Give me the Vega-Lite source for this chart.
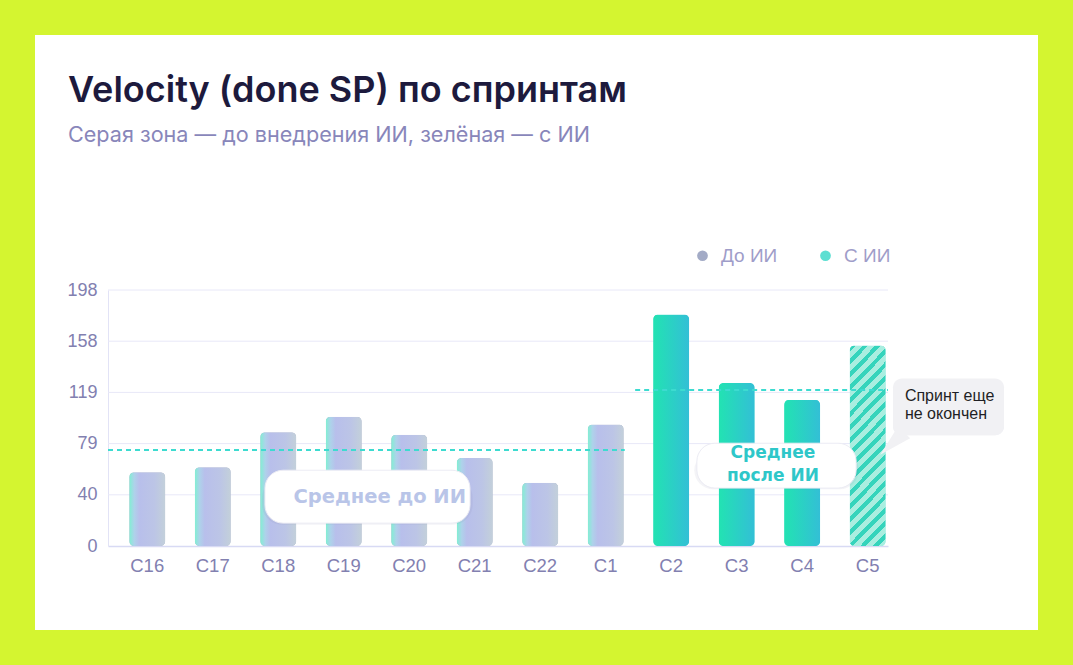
{
  "$schema": "https://vega.github.io/schema/vega-lite/v6.json",
  "width": 1003,
  "height": 595,
  "autosize": {"type": "none"},
  "padding": 35,
  "background": "#d4f530",
  "config": {"view": {"fill": "#ffffff", "stroke": null}, "font": "Liberation Sans"},
  "title": {
    "text": "Velocity (done SP) по спринтам",
    "subtitle": "Серая зона — до внедрения ИИ, зелёная — с ИИ",
    "anchor": "start",
    "frame": "group",
    "orient": "top",
    "dx": 33,
    "offset": -113,
    "font": "Inter",
    "fontSize": 36,
    "fontWeight": 600,
    "color": "#1d1a3d",
    "subtitleFont": "Inter",
    "subtitleFontSize": 21.6,
    "subtitleColor": "#8886ba",
    "subtitlePadding": 15
  },
  "datasets": {
    "sprints": [
      {"s": "С16", "v": 57, "g": "До ИИ", "done": true},
      {"s": "С17", "v": 61, "g": "До ИИ", "done": true},
      {"s": "С18", "v": 88, "g": "До ИИ", "done": true},
      {"s": "С19", "v": 100, "g": "До ИИ", "done": true},
      {"s": "С20", "v": 86, "g": "До ИИ", "done": true},
      {"s": "С21", "v": 68, "g": "До ИИ", "done": true},
      {"s": "С22", "v": 49, "g": "До ИИ", "done": true},
      {"s": "С1", "v": 94, "g": "До ИИ", "done": true},
      {"s": "С2", "v": 179, "g": "С ИИ", "done": true},
      {"s": "С3", "v": 126, "g": "С ИИ", "done": true},
      {"s": "С4", "v": 113, "g": "С ИИ", "done": true},
      {"s": "С5", "v": 155, "g": "С ИИ", "done": false}
    ],
    "grid": [{"t": 39.6}, {"t": 79.2}, {"t": 118.8}, {"t": 158.4}, {"t": 198}]
  },
  "layer": [
    {
      "data": {"name": "grid"},
      "mark": {"type": "rule", "color": "#e8e8f8", "strokeWidth": 1},
      "encoding": {
        "x": {"datum": 0, "type": "quantitative", "scale": {"domain": [0, 12], "range": [73, 853]}, "axis": null},
        "x2": {"datum": 12},
        "y": {"field": "t", "type": "quantitative", "title": null}
      }
    },
    {
      "data": {"name": "sprints"},
      "encoding": {
        "x": {
          "field": "s", "type": "nominal", "sort": null,
          "scale": {"type": "band", "range": [73, 853], "paddingInner": 0.45, "paddingOuter": 0.18, "align": 0.9},
          "axis": {"title": null, "labelAngle": 0, "ticks": false, "grid": false, "domainColor": "#d8daf4", "domainWidth": 1.5, "labelFont": "Liberation Sans", "labelFontSize": 18.5, "labelColor": "#8280b0", "labelPadding": 10, "offset": -84}
        },
        "y": {
          "field": "v", "type": "quantitative",
          "scale": {"domain": [0, 198], "range": [511, 255], "nice": false, "zero": true},
          "axis": {"title": null, "values": [0, 39.6, 79.2, 118.8, 158.4, 198], "format": ".0f", "ticks": false, "grid": false, "domain": true, "domainColor": "#e2e3f6", "labelFont": "Liberation Sans", "labelFontSize": 18, "labelColor": "#8280b0", "labelPadding": 11, "offset": -73}
        }
      },
      "layer": [
        {
          "mark": {"type": "bar", "cornerRadius": 5, "y2Offset": -5},
          "encoding": {
            "color": {
              "field": "g", "type": "nominal",
              "scale": {"domain": ["До ИИ", "С ИИ"], "range": ["#a3abc6", "#5ddfd2"]},
              "legend": {"orient": "none", "legendX": 658, "legendY": 211, "direction": "horizontal", "title": null, "symbolType": "circle", "symbolSize": 115, "symbolStrokeWidth": 0, "labelFont": "Liberation Sans", "labelFontSize": 19, "labelColor": "#9f9dc9", "labelOffset": 9, "columnPadding": 38, "padding": 0}
            }
          }
        },
        {
          "transform": [{"filter": "datum.g == 'До ИИ'"}],
          "mark": {"type": "bar", "cornerRadius": 5, "y2Offset": -5,
            "fill": {"gradient": "linear", "x1": 0, "y1": 0, "x2": 1, "y2": 0,
              "stops": [
                {"offset": 0, "color": "#80f0d2"},
                {"offset": 0.14, "color": "#aed2ea"},
                {"offset": 0.28, "color": "#b8bfeb"},
                {"offset": 0.7, "color": "#bcc5e6"},
                {"offset": 1, "color": "#c3d0da"}
              ]}}
        },
        {
          "transform": [{"filter": "datum.g == 'С ИИ' && datum.done"}],
          "mark": {"type": "bar", "cornerRadius": 5, "y2Offset": -5,
            "fill": {"gradient": "linear", "x1": 0, "y1": 0, "x2": 1, "y2": 0,
              "stops": [
                {"offset": 0, "color": "#22e3b2"},
                {"offset": 1, "color": "#33bfd6"}
              ]}}
        },
        {
          "transform": [{"filter": "!datum.done"}],
          "mark": {"type": "bar", "cornerRadius": 5, "y2Offset": -5,
            "fill": {"gradient": "linear", "x1": 0, "y1": 0, "x2": 0.212, "y2": 1.146,
              "stops": [
                {"offset": 0, "color": "#35d4bc"}, {"offset": 0.025, "color": "#35d4bc"}, {"offset": 0.025, "color": "#a9eee0"}, {"offset": 0.0556, "color": "#a9eee0"},
                {"offset": 0.0556, "color": "#35d4bc"}, {"offset": 0.0806, "color": "#35d4bc"}, {"offset": 0.0806, "color": "#a9eee0"}, {"offset": 0.1111, "color": "#a9eee0"},
                {"offset": 0.1111, "color": "#35d4bc"}, {"offset": 0.1361, "color": "#35d4bc"}, {"offset": 0.1361, "color": "#a9eee0"}, {"offset": 0.1667, "color": "#a9eee0"},
                {"offset": 0.1667, "color": "#35d4bc"}, {"offset": 0.1917, "color": "#35d4bc"}, {"offset": 0.1917, "color": "#a9eee0"}, {"offset": 0.2222, "color": "#a9eee0"},
                {"offset": 0.2222, "color": "#35d4bc"}, {"offset": 0.2472, "color": "#35d4bc"}, {"offset": 0.2472, "color": "#a9eee0"}, {"offset": 0.2778, "color": "#a9eee0"},
                {"offset": 0.2778, "color": "#35d4bc"}, {"offset": 0.3028, "color": "#35d4bc"}, {"offset": 0.3028, "color": "#a9eee0"}, {"offset": 0.3333, "color": "#a9eee0"},
                {"offset": 0.3333, "color": "#35d4bc"}, {"offset": 0.3583, "color": "#35d4bc"}, {"offset": 0.3583, "color": "#a9eee0"}, {"offset": 0.3889, "color": "#a9eee0"},
                {"offset": 0.3889, "color": "#35d4bc"}, {"offset": 0.4139, "color": "#35d4bc"}, {"offset": 0.4139, "color": "#a9eee0"}, {"offset": 0.4444, "color": "#a9eee0"},
                {"offset": 0.4444, "color": "#35d4bc"}, {"offset": 0.4694, "color": "#35d4bc"}, {"offset": 0.4694, "color": "#a9eee0"}, {"offset": 0.5, "color": "#a9eee0"},
                {"offset": 0.5, "color": "#35d4bc"}, {"offset": 0.525, "color": "#35d4bc"}, {"offset": 0.525, "color": "#a9eee0"}, {"offset": 0.5556, "color": "#a9eee0"},
                {"offset": 0.5556, "color": "#35d4bc"}, {"offset": 0.5806, "color": "#35d4bc"}, {"offset": 0.5806, "color": "#a9eee0"}, {"offset": 0.6111, "color": "#a9eee0"},
                {"offset": 0.6111, "color": "#35d4bc"}, {"offset": 0.6361, "color": "#35d4bc"}, {"offset": 0.6361, "color": "#a9eee0"}, {"offset": 0.6667, "color": "#a9eee0"},
                {"offset": 0.6667, "color": "#35d4bc"}, {"offset": 0.6917, "color": "#35d4bc"}, {"offset": 0.6917, "color": "#a9eee0"}, {"offset": 0.7222, "color": "#a9eee0"},
                {"offset": 0.7222, "color": "#35d4bc"}, {"offset": 0.7472, "color": "#35d4bc"}, {"offset": 0.7472, "color": "#a9eee0"}, {"offset": 0.7778, "color": "#a9eee0"},
                {"offset": 0.7778, "color": "#35d4bc"}, {"offset": 0.8028, "color": "#35d4bc"}, {"offset": 0.8028, "color": "#a9eee0"}, {"offset": 0.8333, "color": "#a9eee0"},
                {"offset": 0.8333, "color": "#35d4bc"}, {"offset": 0.8583, "color": "#35d4bc"}, {"offset": 0.8583, "color": "#a9eee0"}, {"offset": 0.8889, "color": "#a9eee0"},
                {"offset": 0.8889, "color": "#35d4bc"}, {"offset": 0.9139, "color": "#35d4bc"}, {"offset": 0.9139, "color": "#a9eee0"}, {"offset": 0.9444, "color": "#a9eee0"},
                {"offset": 0.9444, "color": "#35d4bc"}, {"offset": 0.9694, "color": "#35d4bc"}, {"offset": 0.9694, "color": "#a9eee0"}, {"offset": 1, "color": "#a9eee0"}
              ]}}
        }
      ]
    },
    {
      "layer": [
        {
          "data": {"values": [{"avg": 74.3}]},
          "mark": {"type": "rule", "color": "#3ddbd0", "strokeWidth": 2, "strokeDash": [5, 4]},
          "encoding": {
            "x": {"datum": 0, "type": "quantitative", "scale": {"domain": [0, 12], "range": [73, 853]}, "axis": null},
            "x2": {"datum": 7.95},
            "y": {"field": "avg", "type": "quantitative", "title": null}
          }
        },
        {
          "data": {"values": [{"avg": 120.7}]},
          "mark": {"type": "rule", "color": "#3ddbd0", "strokeWidth": 2, "strokeDash": [5, 4]},
          "encoding": {
            "x": {"datum": 8.11, "type": "quantitative", "axis": null},
            "x2": {"datum": 12},
            "y": {"field": "avg", "type": "quantitative", "title": null}
          }
        },
        {
          "data": {"values": [{}]},
          "mark": {"type": "rect", "cornerRadius": 20, "fill": "#6f7399", "opacity": 0.08, "yOffset": 9},
          "encoding": {
            "x": {"datum": 2.37, "type": "quantitative", "axis": null},
            "x2": {"datum": 5.61},
            "y": {"datum": 59.5, "type": "quantitative"},
            "y2": {"datum": 16.5}
          }
        },
        {
          "data": {"values": [{}]},
          "mark": {"type": "rect", "cornerRadius": 18, "fill": "#6f7399", "opacity": 0.12, "yOffset": 4},
          "encoding": {
            "x": {"datum": 2.415, "type": "quantitative", "axis": null},
            "x2": {"datum": 5.569},
            "y": {"datum": 58.6, "type": "quantitative"},
            "y2": {"datum": 17.7}
          }
        },
        {
          "data": {"values": [{}]},
          "mark": {"type": "rect", "cornerRadius": 18, "fill": "#ffffff", "stroke": "#ececf4", "strokeWidth": 1},
          "encoding": {
            "x": {"datum": 2.415, "type": "quantitative", "axis": null},
            "x2": {"datum": 5.569},
            "y": {"datum": 58.6, "type": "quantitative"},
            "y2": {"datum": 17.7}
          }
        },
        {
          "data": {"values": [{"label": "Среднее до ИИ"}]},
          "mark": {"type": "text", "font": "DejaVu Sans", "fontWeight": "bold", "fontSize": 19.5, "color": "#b9c5e8", "align": "center", "baseline": "middle"},
          "encoding": {
            "x": {"datum": 4.18, "type": "quantitative", "axis": null},
            "y": {"datum": 37.8, "type": "quantitative"},
            "text": {"field": "label"}
          }
        },
        {
          "data": {"values": [{}]},
          "mark": {"type": "rect", "cornerRadius": 20, "fill": "#6f7399", "opacity": 0.08, "yOffset": 9},
          "encoding": {
            "x": {"datum": 9.02, "type": "quantitative", "axis": null},
            "x2": {"datum": 11.55},
            "y": {"datum": 80.3, "type": "quantitative"},
            "y2": {"datum": 43.9}
          }
        },
        {
          "data": {"values": [{}]},
          "mark": {"type": "rect", "cornerRadius": 18, "fill": "#6f7399", "opacity": 0.12, "yOffset": 4},
          "encoding": {
            "x": {"datum": 9.06, "type": "quantitative", "axis": null},
            "x2": {"datum": 11.51},
            "y": {"datum": 79.5, "type": "quantitative"},
            "y2": {"datum": 44.8}
          }
        },
        {
          "data": {"values": [{}]},
          "mark": {"type": "rect", "cornerRadius": 18, "fill": "#ffffff", "stroke": "#ececf4", "strokeWidth": 1},
          "encoding": {
            "x": {"datum": 9.06, "type": "quantitative", "axis": null},
            "x2": {"datum": 11.51},
            "y": {"datum": 79.5, "type": "quantitative"},
            "y2": {"datum": 44.8}
          }
        },
        {
          "data": {"values": [{"label": "Среднее\nпосле ИИ"}]},
          "mark": {"type": "text", "font": "DejaVu Sans", "fontWeight": "bold", "fontSize": 17, "color": "#2ec7c9", "align": "center", "baseline": "middle", "lineBreak": "\n", "lineHeight": 23},
          "encoding": {
            "x": {"datum": 10.23, "type": "quantitative", "axis": null},
            "y": {"datum": 71.9, "type": "quantitative"},
            "text": {"field": "label"}
          }
        },
        {
          "data": {"values": [{}]},
          "mark": {"type": "rect", "cornerRadius": 9, "fill": "#6f7399", "opacity": 0.12, "yOffset": 4},
          "encoding": {
            "x": {"datum": 12.077, "type": "quantitative", "axis": null},
            "x2": {"datum": 13.785},
            "y": {"datum": 129.6, "type": "quantitative"},
            "y2": {"datum": 85.6}
          }
        },
        {
          "data": {"values": [{}]},
          "mark": {"type": "point", "shape": "M0.2,-1L-1,0.9L1,-0.2Z", "size": 900, "filled": true, "color": "#f1f1f4", "opacity": 1, "strokeWidth": 0},
          "encoding": {
            "x": {"datum": 12.11, "type": "quantitative", "axis": null},
            "y": {"datum": 81, "type": "quantitative"}
          }
        },
        {
          "data": {"values": [{}]},
          "mark": {"type": "rect", "cornerRadius": 9, "fill": "#f1f1f4"},
          "encoding": {
            "x": {"datum": 12.077, "type": "quantitative", "axis": null},
            "x2": {"datum": 13.785},
            "y": {"datum": 129.6, "type": "quantitative"},
            "y2": {"datum": 85.6}
          }
        },
        {
          "data": {"values": [{"label": "Спринт еще\nне окончен"}]},
          "mark": {"type": "text", "font": "Liberation Sans", "fontSize": 16, "color": "#1f1f24", "align": "left", "baseline": "middle", "lineBreak": "\n", "lineHeight": 18},
          "encoding": {
            "x": {"datum": 12.26, "type": "quantitative", "axis": null},
            "y": {"datum": 116, "type": "quantitative"},
            "text": {"field": "label"}
          }
        }
      ]
    }
  ],
  "resolve": {"scale": {"x": "independent"}, "axis": {"x": "independent"}}
}
